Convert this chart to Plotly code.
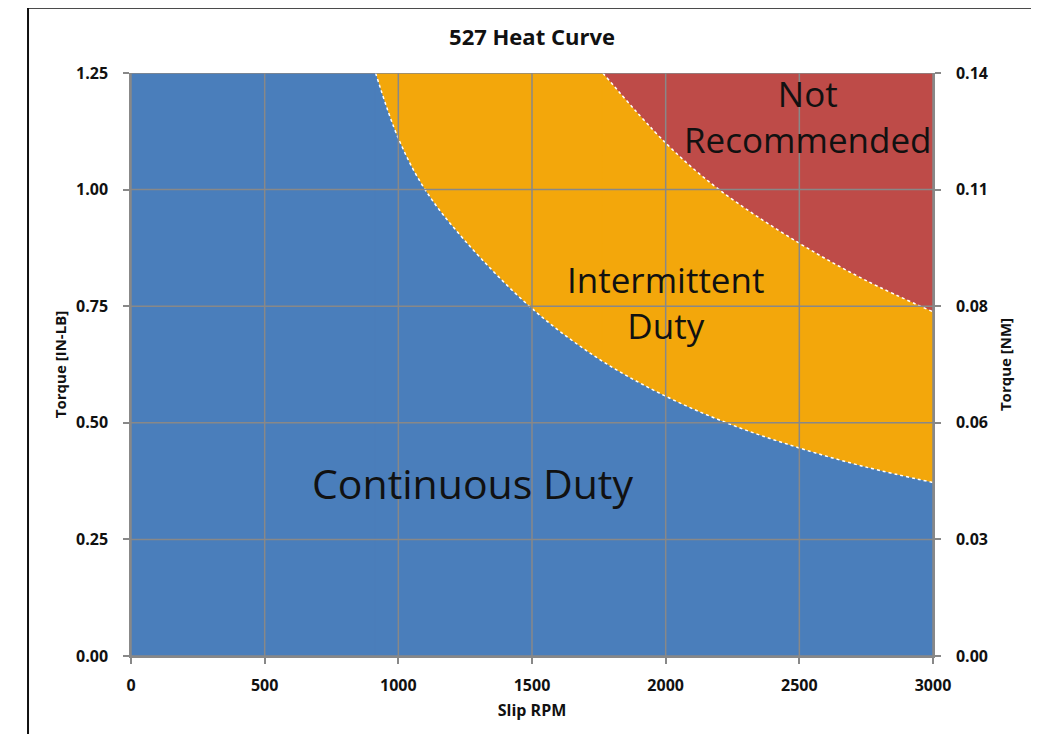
import plotly.graph_objects as go

# ---- data ----
rpm_range = [0, 3000]
torque_range = [0, 1.25]
x_ticks = [0, 500, 1000, 1500, 2000, 2500, 3000]
y_ticks = [0.0, 0.25, 0.5, 0.75, 1.0, 1.25]
y_tick_labels = ["0.00", "0.25", "0.50", "0.75", "1.00", "1.25"]
nm_tick_labels = ["0.00", "0.03", "0.06", "0.08", "0.11", "0.14"]

# continuous-duty limit (blue / orange boundary)
cont_rpm = [915, 1000, 1100, 1250, 1500, 1750, 2000, 2250, 2500, 2750, 3000]
cont_torque = [1.25, 1.11, 1.00, 0.89, 0.745, 0.637, 0.557, 0.495, 0.446, 0.405, 0.372]

# intermittent-duty limit (orange / red boundary)
int_rpm = [1765, 2000, 2200, 2500, 2750, 3000]
int_torque = [1.25, 1.10, 1.00, 0.885, 0.805, 0.738]

BLUE = "#4A7EBB"
ORANGE = "#F3A70B"
RED = "#BE4B48"
GRID = "#888888"
FONT = "Open Sans"
INK = "#111111"

fig = go.Figure()


def add_region(xs, ys, color):
    # flat top part plus its right edge, then the curved limit
    fig.add_trace(go.Scatter(x=[rpm_range[0], xs[0], xs[0]], y=[torque_range[1], torque_range[1], torque_range[0]],
                             mode="lines", line=dict(width=2, color=color),
                             fill="tozeroy", fillcolor=color, hoverinfo="skip", showlegend=False))
    fig.add_trace(go.Scatter(x=xs, y=ys, mode="lines",
                             line=dict(width=0, color=color, shape="spline", smoothing=1.0),
                             fill="tozeroy", fillcolor=color, hoverinfo="skip", showlegend=False))


add_region(int_rpm, int_torque, ORANGE)
add_region(cont_rpm, cont_torque, BLUE)

# white dotted boundary lines
for xs, ys in [(cont_rpm, cont_torque), (int_rpm, int_torque)]:
    fig.add_trace(go.Scatter(x=xs, y=ys, mode="lines",
                             line=dict(width=1.5, color="white", dash="dot", shape="spline", smoothing=1.0),
                             hoverinfo="skip", showlegend=False))
# invisible trace for the right axis
fig.add_trace(go.Scatter(x=[None], y=[None], yaxis="y2", showlegend=False, hoverinfo="skip"))

shapes = []
# gridlines drawn above the filled regions
for xv in x_ticks:
    shapes.append(dict(type="line", xref="x", yref="y", x0=xv, x1=xv, y0=torque_range[0], y1=torque_range[1],
                       line=dict(color=GRID, width=1.5), layer="above"))
for yv in y_ticks:
    shapes.append(dict(type="line", xref="x", yref="y", x0=rpm_range[0], x1=rpm_range[1], y0=yv, y1=yv,
                       line=dict(color=GRID, width=1.5), layer="above"))
# outer chart frame
shapes.append(dict(type="rect", xref="paper", yref="paper", x0=-0.1284, x1=1.1272, y0=-0.2, y1=1.112,
                   line=dict(color=INK, width=2), fillcolor="rgba(0,0,0,0)", layer="above"))

annotations = [
    dict(text="Continuous Duty", x=1279, y=0.371, xref="x", yref="y", showarrow=False,
         font=dict(family=FONT, size=41, color=INK)),
    dict(text="Intermittent<br>Duty", x=2001, y=0.757, xref="x", yref="y", showarrow=False,
         font=dict(family=FONT, size=35, color=INK), align="center"),
    dict(text="Not<br>Recommended", x=2531, y=1.157, xref="x", yref="y", showarrow=False,
         font=dict(family=FONT, size=35, color=INK), align="center"),
]

tickfont = dict(family=FONT, size=16, color=INK, weight="bold")

fig.update_layout(
    width=1031, height=726,
    margin=dict(l=123, r=106, t=65, b=78),
    paper_bgcolor="white",
    plot_bgcolor=RED,
    title=dict(text="<b>527 Heat Curve</b>", x=(123 + 401) / 1031, xanchor="center", y=1 - 29 / 726,
               yanchor="middle", font=dict(family=FONT, size=22, color=INK)),
    xaxis=dict(range=rpm_range, tickvals=x_ticks, showgrid=False, zeroline=False,
               showline=True, linecolor=GRID, linewidth=1.5, ticks="outside", ticklen=6, tickcolor=GRID,
               tickwidth=1.5, tickfont=tickfont, ticklabelstandoff=8,
               title=dict(text="<b>Slip RPM</b>", font=dict(family=FONT, size=16, color=INK), standoff=10)),
    yaxis=dict(range=torque_range, tickvals=y_ticks, ticktext=y_tick_labels, showgrid=False, zeroline=False,
               showline=True, linecolor=GRID, linewidth=1.5, ticks="outside", ticklen=6, tickcolor=GRID,
               tickwidth=1.5, tickfont=tickfont, ticklabelstandoff=12,
               title=dict(text="<b>Torque [IN-LB]</b>", font=dict(family=FONT, size=15, color=INK), standoff=6)),
    yaxis2=dict(range=torque_range, tickvals=y_ticks, ticktext=nm_tick_labels, overlaying="y", side="right",
                showgrid=False, zeroline=False, showline=True, linecolor=GRID, linewidth=1.5,
                ticks="outside", ticklen=6, tickcolor=GRID, tickwidth=1.5, tickfont=tickfont, ticklabelstandoff=12,
                title=dict(text="<b>Torque [NM]</b>", font=dict(family=FONT, size=15, color=INK), standoff=14)),
    shapes=shapes,
    annotations=annotations,
    showlegend=False,
)

fig.write_html("out.html")
